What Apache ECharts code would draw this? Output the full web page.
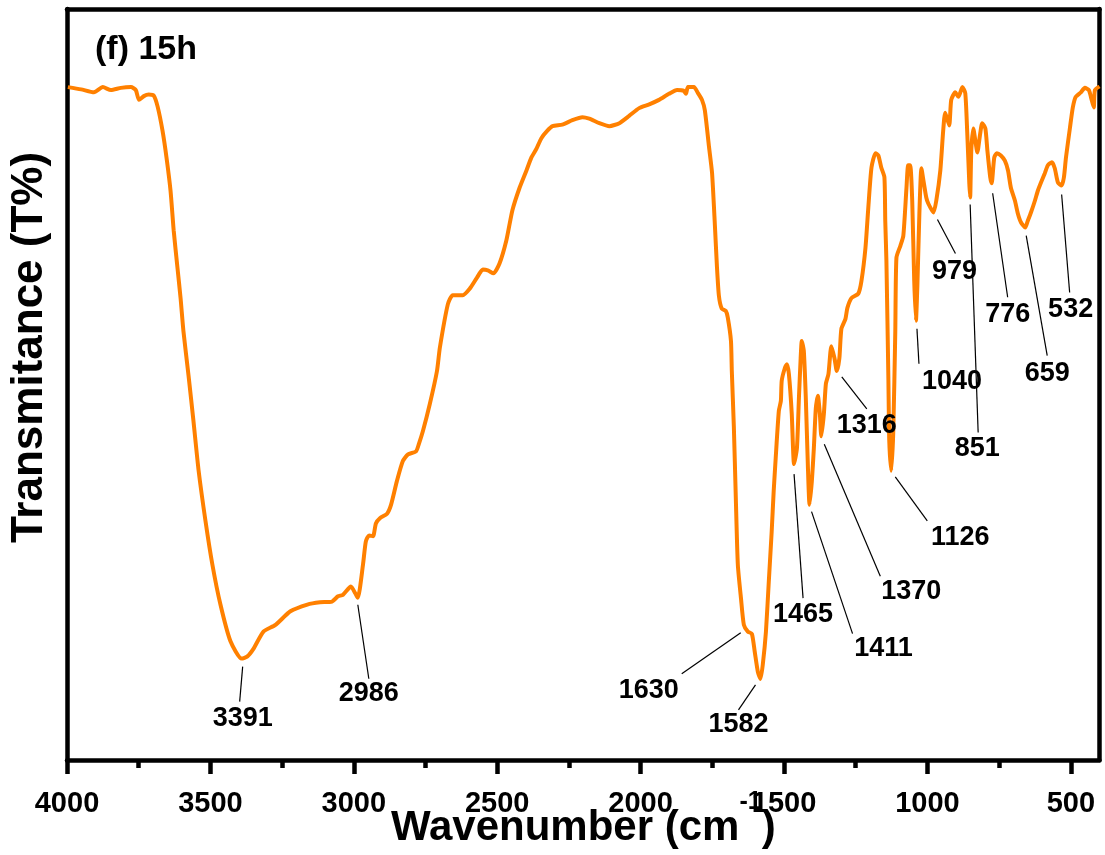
<!DOCTYPE html>
<html>
<head>
<meta charset="utf-8">
<title>FTIR (f) 15h</title>
<script src="https://cdn.jsdelivr.net/npm/echarts@6/dist/echarts.min.js"></script>
<style>
  html, body { margin: 0; padding: 0; background: #fff; }
  #chart { width: 1105px; height: 855px; }
</style>
</head>
<body>
<div id="chart"></div>
<script>
const wavenumber = [
  3997, 3951, 3906, 3875, 3847, 3812, 3777, 3760, 3749, 3732,
  3715, 3698, 3684, 3667, 3653, 3639, 3628, 3615, 3604, 3594,
  3576, 3559, 3541, 3517, 3493, 3465, 3430, 3391, 3371, 3350,
  3315, 3273, 3221, 3162, 3118, 3076, 3055, 3038, 3010, 2995,
  2986, 2968, 2958, 2947, 2933, 2923, 2909, 2884, 2870, 2850,
  2829, 2811, 2783, 2773, 2759, 2735, 2710, 2700, 2672, 2655,
  2620, 2595, 2571, 2550, 2533, 2513, 2492, 2468, 2447, 2422,
  2398, 2381, 2363, 2346, 2325, 2307, 2273, 2238, 2203, 2179,
  2144, 2109, 2074, 2039, 2005, 1970, 1936, 1901, 1873, 1849,
  1842, 1835, 1814, 1800, 1786, 1776, 1762, 1751, 1741, 1734,
  1727, 1717, 1703, 1696, 1685, 1682, 1675, 1668, 1661, 1650,
  1640, 1626, 1612, 1602, 1591, 1582, 1574, 1563, 1553, 1543,
  1536, 1529, 1518, 1511, 1508, 1497, 1490, 1483, 1473, 1465,
  1455, 1448, 1442, 1438, 1431, 1424, 1417, 1411, 1403, 1396,
  1389, 1382, 1375, 1370, 1361, 1354, 1345, 1335, 1324, 1316,
  1307, 1300, 1286, 1279, 1265, 1241, 1230, 1216, 1206, 1195,
  1181, 1171, 1161, 1150, 1147, 1143, 1136, 1133, 1126, 1119,
  1112, 1108, 1094, 1084, 1073, 1067, 1060, 1053, 1046, 1040,
  1035, 1028, 1021, 1014, 1004, 997, 979, 969, 955, 945,
  938, 924, 917, 903, 892, 878, 868, 861, 854, 851,
  847, 840, 833, 826, 816, 809, 798, 791, 781, 776,
  767, 758, 744, 730, 719, 709, 695, 685, 674, 659,
  650, 639, 625, 615, 604, 591, 580, 566, 556, 545,
  532, 524, 517, 503, 493, 483, 465, 451, 437, 430,
  420, 416, 400
];

const transmittance = [
  89.6, 89.3, 88.9, 89.6, 89.2, 89.5, 89.6, 89.2, 87.9, 88.4,
  88.6, 88.5, 87.0, 83.8, 80.2, 75.8, 70.5, 65.6, 61.5, 57.1,
  51.1, 45.1, 38.5, 31.8, 26.0, 20.7, 15.8, 13.5, 13.8, 14.8,
  17.1, 18.0, 19.8, 20.7, 21.0, 21.1, 21.8, 22.0, 23.1, 22.2,
  21.6, 26.0, 29.1, 29.9, 29.8, 31.5, 32.2, 32.8, 34.0, 37.1,
  39.8, 40.7, 41.1, 42.1, 43.8, 47.4, 51.8, 54.9, 60.7, 61.9,
  61.9, 62.8, 64.2, 65.3, 65.2, 64.8, 66.1, 69.2, 73.2, 76.2,
  78.5, 80.2, 81.4, 82.8, 83.8, 84.4, 84.6, 85.2, 85.6, 85.4,
  84.8, 84.4, 84.8, 85.8, 86.8, 87.3, 87.9, 88.7, 89.2, 89.1,
  88.7, 89.6, 89.6, 88.8, 87.9, 86.5, 81.8, 78.2, 71.2, 65.8,
  61.8, 60.1, 59.8, 58.9, 55.8, 51.8, 44.5, 34.8, 26.0, 21.5,
  18.0, 17.1, 16.8, 14.4, 11.7, 10.8, 12.7, 17.1, 23.8, 30.4,
  35.8, 40.2, 46.5, 47.8, 50.5, 52.2, 52.7, 51.4, 46.1, 39.4,
  41.5, 48.2, 53.5, 55.8, 54.5, 48.2, 39.4, 34.0, 37.1, 41.5,
  46.9, 48.5, 46.1, 43.1, 46.1, 50.1, 51.4, 55.1, 53.5, 51.8,
  53.5, 57.4, 58.7, 60.2, 61.5, 62.1, 63.8, 68.2, 73.6, 78.9,
  80.8, 80.5, 78.9, 77.6, 71.8, 66.5, 50.5, 42.5, 38.5, 43.8,
  57.1, 66.9, 68.5, 69.8, 76.2, 79.2, 79.2, 74.5, 63.8, 58.5,
  63.2, 72.8, 78.8, 77.2, 74.9, 74.1, 72.9, 74.5, 78.5, 83.8,
  86.2, 84.5, 87.9, 88.9, 88.3, 89.6, 88.8, 83.4, 76.8, 74.9,
  81.2, 84.1, 82.5, 80.9, 83.4, 84.8, 84.1, 81.2, 77.6, 76.8,
  80.2, 80.8, 80.5, 79.8, 78.5, 76.2, 74.5, 72.8, 71.6, 70.9,
  71.8, 72.9, 74.5, 75.8, 76.9, 78.1, 79.2, 79.6, 78.8, 76.9,
  76.5, 77.6, 80.2, 84.2, 86.9, 88.3, 88.9, 89.5, 89.2, 88.3,
  86.9, 89.2, 89.7
];

const majorTicks = [4000, 3500, 3000, 2500, 2000, 1500, 1000, 500];
const minorTicks = [3750, 3250, 2750, 2250, 1750, 1250, 750];
const peakLabels = [3391, 2986, 1630, 1582, 1465, 1411, 1370, 1316, 1126, 1040, 979, 851, 776, 659, 532];

// leader start dx,dy / leader end dx,dy / label centre dx,dy, in px from the point on the curve
const peakLayout = [
  [1, 8, -2, 43, 1, 60],
  [0, 7, 11, 81, 11, 96],
  [-6, 3, -65, 44, -98, 61],
  [-5, 6, -22, 31, -22, 46],
  [0, 10, 9, 134, 9, 150],
  [2, 7, 43, 129, 74, 144],
  [3, 8, 59, 140, 90, 155],
  [5, 6, 30, 38, 30, 55],
  [4, 6, 36, 50, 69, 67],
  [1, 8, 3, 43, 36, 61],
  [4, 7, 22, 41, 21, 59],
  [0, 7, 8, 235, 7, 251],
  [1, 10, 16, 114, 16, 131],
  [1, 8, 22, 128, 22, 146],
  [0, 9, 8, 107, 9, 124]
];

const FONT = '"Liberation Sans", Arial, Helvetica, sans-serif';
const FRAME = 4.5;

function transmittanceAt(wn) {
  for (let i = 0; i < wavenumber.length - 1; i++) {
    const a = wavenumber[i];
    const b = wavenumber[i + 1];
    if (wn <= a && wn >= b) {
      const t = (a - wn) / (a - b);
      return transmittance[i] + t * (transmittance[i + 1] - transmittance[i]);
    }
  }
  return null;
}

const frameAxis = {
  min: 400,
  max: 4000,
  inverse: true,
  type: 'value',
  axisTick: { show: false },
  axisLabel: { show: false },
  splitLine: { show: false }
};

const option = {
  animation: false,
  backgroundColor: '#fff',
  title: {
    text: '(f) 15h',
    left: 95,
    top: 33,
    padding: 0,
    textStyle: { fontFamily: FONT, fontSize: 34, fontWeight: 'bold', color: '#000' }
  },
  grid: { left: 67, right: 5.5, top: 9, bottom: 95, containLabel: false, outerBoundsMode: 'none' },
  xAxis: [
    {
      type: 'value',
      position: 'bottom',
      min: 400,
      max: 4000,
      inverse: true,
      axisLine: { show: true, onZero: false, lineStyle: { color: '#000', width: FRAME } },
      axisTick: {
        show: true,
        inside: false,
        length: 14,
        customValues: majorTicks,
        lineStyle: { color: '#000', width: 4.5 }
      },
      axisLabel: {
        show: true,
        customValues: majorTicks,
        formatter: (v) => String(v),
        margin: 29,
        showMinLabel: true,
        showMaxLabel: true,
        hideOverlap: false,
        fontFamily: FONT,
        fontSize: 29,
        fontWeight: 'bold',
        color: '#000'
      },
      splitLine: { show: false },
      name: '{a|Wavenumber (cm}{s|-1}{a|)}',
      nameLocation: 'middle',
      nameGap: 30,
      nameMoveOverlap: false,
      nameTextStyle: {
        rich: {
          a: { fontFamily: FONT, fontSize: 42, fontWeight: 'bold', color: '#000', verticalAlign: 'bottom' },
          s: { fontFamily: FONT, fontSize: 25, fontWeight: 'bold', color: '#000', verticalAlign: 'top', padding: [0, 0, 34, 0] }
        }
      }
    },
    Object.assign({}, frameAxis, {
      position: 'bottom',
      axisLine: { show: false },
      axisTick: {
        show: true,
        inside: false,
        length: 8,
        customValues: minorTicks,
        lineStyle: { color: '#000', width: 4.5 }
      }
    }),
    Object.assign({}, frameAxis, {
      position: 'top',
      axisLine: { show: true, onZero: false, lineStyle: { color: '#000', width: FRAME } }
    })
  ],
  yAxis: [
    {
      type: 'value',
      position: 'left',
      min: 0,
      max: 100,
      axisLine: { show: true, onZero: false, lineStyle: { color: '#000', width: FRAME } },
      axisTick: { show: false },
      axisLabel: { show: false },
      splitLine: { show: false },
      name: 'Transmitance (T%)',
      nameLocation: 'middle',
      nameRotate: 90,
      nameGap: 15,
      nameMoveOverlap: false,
      nameTextStyle: {
        fontFamily: FONT,
        fontSize: 44,
        fontWeight: 'bold',
        color: '#000',
        padding: [0, 0, 0, 74]
      }
    },
    {
      type: 'value',
      position: 'right',
      min: 0,
      max: 100,
      axisLine: { show: true, onZero: false, lineStyle: { color: '#000', width: FRAME } },
      axisTick: { show: false },
      axisLabel: { show: false },
      splitLine: { show: false }
    }
  ],
  series: [
    {
      type: 'line',
      xAxisIndex: 0,
      yAxisIndex: 0,
      data: wavenumber.map((w, i) => [w, transmittance[i]]),
      showSymbol: false,
      smooth: 0.2,
      lineStyle: { color: '#FF8000', width: 4 },
      z: 3
    }
  ]
};

const chart = echarts.init(document.getElementById('chart'));
chart.setOption(option);

// peak labels with leader lines, placed from the curve point
const graphic = [];
peakLabels.forEach((wn, i) => {
  const p = chart.convertToPixel({ xAxisIndex: 0, yAxisIndex: 0 }, [wn, transmittanceAt(wn)]);
  const l = peakLayout[i];
  graphic.push({
    type: 'line',
    shape: { x1: p[0] + l[0], y1: p[1] + l[1], x2: p[0] + l[2], y2: p[1] + l[3] },
    style: { stroke: '#000', lineWidth: 1.2 },
    z: 10
  });
  graphic.push({
    type: 'text',
    x: p[0] + l[4],
    y: p[1] + l[5],
    style: {
      text: String(wn),
      font: 'bold 27px ' + FONT,
      fill: '#000',
      align: 'center',
      verticalAlign: 'middle',
      textAlign: 'center',
      textVerticalAlign: 'middle'
    },
    z: 10
  });
});
chart.setOption({ graphic: graphic });
</script>
</body>
</html>
